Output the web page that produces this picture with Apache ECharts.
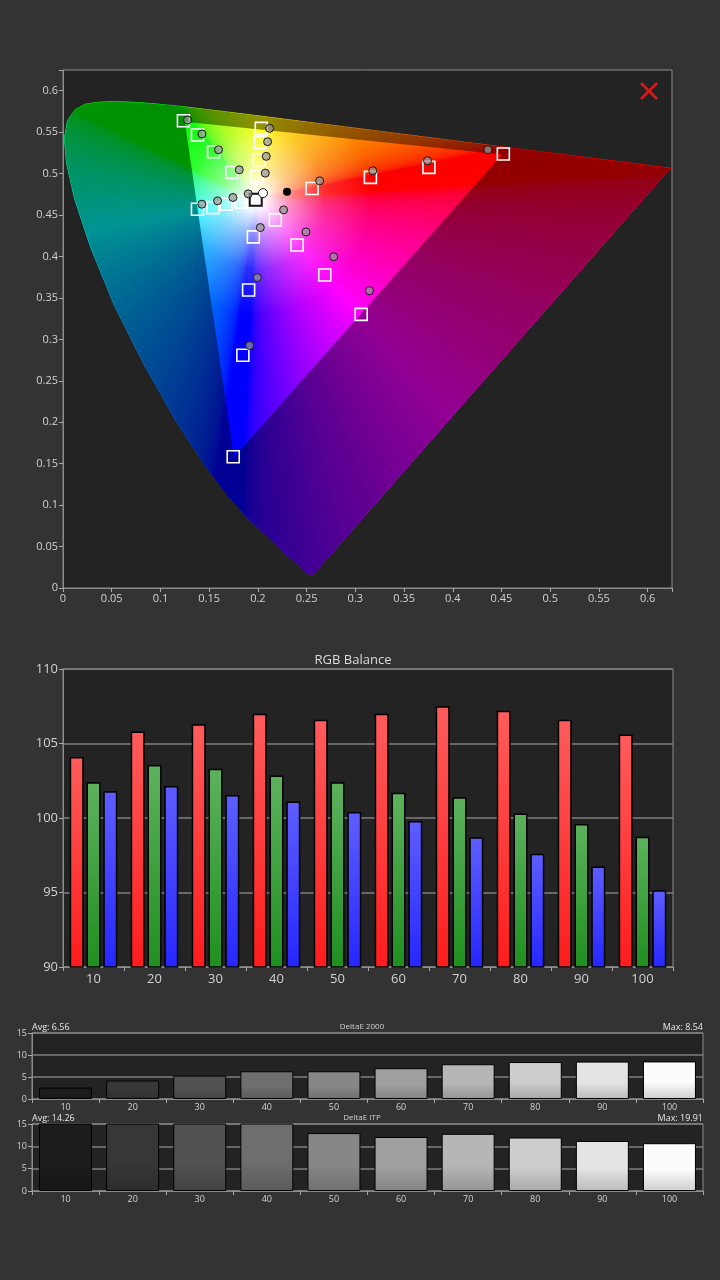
<!DOCTYPE html>
<html>
<head>
<meta charset="utf-8">
<script src="https://cdn.jsdelivr.net/npm/echarts@6.0.0/dist/echarts.min.js"></script>
<style>
html,body{margin:0;padding:0;background:#333;}
#main{width:720px;height:1280px;}
</style>
</head>
<body>
<div id="main"></div>
<script>
// spectral locus (CIE 1976 u'v'), 380nm -> 700nm, then back along the line of purples
var locusU = [0.2568, 0.2522, 0.2461, 0.2347, 0.2161, 0.1877, 0.1690, 0.1441, 0.1147, 0.0828, 0.0521, 0.0282, 0.0119, 0.0035, 0.0014, 0.0046, 0.0123, 0.0231, 0.0360, 0.0501, 0.0643, 0.0792, 0.0953, 0.1127, 0.1319, 0.1531, 0.1766, 0.2026, 0.2312, 0.2623, 0.2960, 0.3315, 0.3681, 0.4035, 0.4692, 0.5203, 0.5565, 0.5830, 0.6005, 0.6234, 0.5623, 0.5012, 0.4401, 0.3790, 0.3179];
var locusV = [0.0166, 0.0169, 0.0226, 0.0350, 0.0549, 0.0871, 0.1119, 0.1510, 0.2044, 0.2708, 0.3427, 0.4117, 0.4698, 0.5131, 0.5432, 0.5638, 0.5770, 0.5837, 0.5861, 0.5868, 0.5865, 0.5856, 0.5841, 0.5821, 0.5796, 0.5766, 0.5732, 0.5694, 0.5651, 0.5604, 0.5554, 0.5501, 0.5446, 0.5393, 0.5296, 0.5219, 0.5165, 0.5125, 0.5099, 0.5065, 0.4249, 0.3432, 0.2616, 0.1799, 0.0982];
// Rec.709 gamut R, G, B and D65
var gamutU = [0.4507, 0.1250, 0.1754];
var gamutV = [0.5229, 0.5625, 0.1579];
var whiteU = 0.1978, whiteV = 0.4683;

// targets (squares)
var targetU = [0.1236, 0.1380, 0.1545, 0.1733, 0.2035, 0.2025, 0.2014, 0.1994, 0.4519, 0.3755, 0.3155, 0.2556, 0.1380, 0.1538, 0.1675, 0.1826, 0.3060, 0.2686, 0.2402, 0.2179, 0.1747, 0.1846, 0.1905, 0.1953];
var targetV = [0.5638, 0.5465, 0.5264, 0.5014, 0.5546, 0.5377, 0.5167, 0.4966, 0.5236, 0.5075, 0.4954, 0.4821, 0.4570, 0.4590, 0.4631, 0.4659, 0.3301, 0.3777, 0.4139, 0.4442, 0.1584, 0.2809, 0.3595, 0.4236];
// measurements (circles)
var measU = [0.1278, 0.1425, 0.1596, 0.1809, 0.2120, 0.2100, 0.2086, 0.2076, 0.4361, 0.3741, 0.3179, 0.2634, 0.1425, 0.1586, 0.1744, 0.1901, 0.3145, 0.2778, 0.2494, 0.2264, 0.1915, 0.1994, 0.2025];
var measV = [0.5647, 0.5478, 0.5288, 0.5046, 0.5546, 0.5385, 0.5208, 0.5006, 0.5288, 0.5155, 0.5034, 0.4913, 0.4631, 0.4671, 0.4712, 0.4756, 0.3587, 0.3997, 0.4296, 0.4562, 0.2926, 0.3745, 0.4349];
var whiteMeas = [0.2052, 0.4764];
var blackDot = [0.2299, 0.4780];
var uvTicks = ['0', '0.05', '0.1', '0.15', '0.2', '0.25', '0.3', '0.35', '0.4', '0.45', '0.5', '0.55', '0.6'];

// RGB balance
var levels = ['10', '20', '30', '40', '50', '60', '70', '80', '90', '100'];
var redVals = [104.1, 105.8, 106.3, 107.0, 106.6, 107.0, 107.5, 107.2, 106.6, 105.6];
var greenVals = [102.4, 103.55, 103.3, 102.85, 102.4, 101.7, 101.4, 100.3, 99.6, 98.75];
var blueVals = [101.8, 102.15, 101.55, 101.1, 100.4, 99.8, 98.7, 97.6, 96.75, 95.15];

// DeltaE
var de2000 = [2.6, 4.2, 5.3, 6.3, 6.3, 7.0, 7.9, 8.4, 8.5, 8.54];
var deItp = [16.2, 17.4, 17.3, 19.91, 12.96, 12.1, 12.8, 11.97, 11.2, 10.7];
var barGrays = [28, 55, 82, 110, 135, 160, 182, 205, 228, 252];

var labelFont = 'Open Sans';
var axisGray = '#8c8c8c';
var hueSteps = 8; // colour steps per locus segment

function chromaColor(u, v) {
	var d = 6 * u - 16 * v + 12;
	var x = 9 * u / d, y = 4 * v / d;
	var X = x / y, Y = 1, Z = (1 - x - y) / y;
	var rgb = [
		3.2406 * X - 1.5372 * Y - 0.4986 * Z,
		-0.9689 * X + 1.8758 * Y + 0.0415 * Z,
		0.0557 * X - 0.2040 * Y + 1.0570 * Z
	].map(function(c) { return Math.max(c, 0); });
	var m = Math.max(rgb[0], rgb[1], rgb[2]);
	return 'rgb(' + rgb.map(function(c) {
		c = c / m;
		c = c <= 0.0031308 ? 12.92 * c : 1.055 * Math.pow(c, 1 / 2.4) - 0.055;
		return Math.round(c * 255);
	}).join(',') + ')';
}

function signedArea(pts) {
	var a = 0;
	for (var i = 0; i < pts.length; i++) {
		var p = pts[i], q = pts[(i + 1) % pts.length];
		a += p[0] * q[1] - q[0] * p[1];
	}
	return a;
}

// hue layer: each locus segment is a fan of thin wedges, one colour per direction
function renderHue(params, api) {
	var i = params.dataIndex;
	var j = (i + 1) % locusU.length;
	var w = api.coord([whiteU, whiteV]);
	var kids = [];
	for (var k = 0; k < hueSteps; k++) {
		var f0 = k / hueSteps, f1 = (k + 1) / hueSteps, fm = (k + 0.5) / hueSteps;
		var p0 = api.coord([locusU[i] + (locusU[j] - locusU[i]) * f0, locusV[i] + (locusV[j] - locusV[i]) * f0]);
		var p1 = api.coord([locusU[i] + (locusU[j] - locusU[i]) * f1, locusV[i] + (locusV[j] - locusV[i]) * f1]);
		var col = chromaColor(locusU[i] + (locusU[j] - locusU[i]) * fm, locusV[i] + (locusV[j] - locusV[i]) * fm);
		kids.push({
			type: 'polygon',
			shape: { points: [w, p0, p1] },
			style: { fill: col, stroke: col, lineWidth: 0.8 }
		});
	}
	return { type: 'group', children: kids };
}

// white glow round the white point, inside the gamut triangle
function renderWhite(params, api) {
	var w = api.coord([whiteU, whiteV]);
	var tri = gamutU.map(function(u, i) { return api.coord([u, gamutV[i]]); });
	var grad = new echarts.graphic.RadialGradient(w[0], w[1], 115, [
		{ offset: 0, color: 'rgba(255,255,255,1)' },
		{ offset: 0.1, color: 'rgba(255,255,255,0.93)' },
		{ offset: 0.3, color: 'rgba(255,255,255,0.55)' },
		{ offset: 0.6, color: 'rgba(255,255,255,0.18)' },
		{ offset: 1, color: 'rgba(255,255,255,0)' }
	], true);
	return {
		type: 'polygon',
		shape: { points: tri },
		style: { fill: grad }
	};
}

// darken everything outside the gamut triangle
function renderShade(params, api) {
	var outer = locusU.map(function(u, i) { return api.coord([u, locusV[i]]); });
	var tri = gamutU.map(function(u, i) { return api.coord([u, gamutV[i]]); });
	if (signedArea(outer) * signedArea(tri) > 0) tri.reverse();
	var d = '';
	outer.forEach(function(p, i) { d += (i ? 'L' : 'M') + p[0] + ' ' + p[1] + ' '; });
	d += 'Z ';
	tri.forEach(function(p, i) { d += (i ? 'L' : 'M') + p[0] + ' ' + p[1] + ' '; });
	d += 'Z';
	return {
		type: 'path',
		shape: { pathData: d },
		style: { fill: 'rgba(0,0,0,0.42)' }
	};
}

function pairs(us, vs) {
	return us.map(function(u, i) { return [u, vs[i]]; });
}

function barGrad(top, bottom) {
	return new echarts.graphic.LinearGradient(0, 0, 0, 1, [
		{ offset: 0, color: top },
		{ offset: 1, color: bottom }
	]);
}

function grayBar(vals) {
	return vals.map(function(v, i) {
		var g = barGrays[i], g2 = Math.round(g * 0.82);
		return {
			value: v,
			itemStyle: {
				color: new echarts.graphic.LinearGradient(0, 0, 0, 1, [
					{ offset: 0, color: 'rgb(' + g + ',' + g + ',' + g + ')' },
					{ offset: 0.55, color: 'rgb(' + g + ',' + g + ',' + g + ')' },
					{ offset: 1, color: 'rgb(' + g2 + ',' + g2 + ',' + g2 + ')' }
				])
			}
		};
	});
}

var chart = echarts.init(document.getElementById('main'));

var gridBase = { show: true, backgroundColor: '#232323', borderColor: axisGray, borderWidth: 1 };

function valueAxis(idx, min, max, step, size, fmt, split) {
	return {
		type: 'value', gridIndex: idx, min: min, max: max, interval: step,
		axisLine: { show: true, lineStyle: { color: axisGray } },
		axisTick: { show: true, length: 4, lineStyle: { color: '#aaa' } },
		axisLabel: { color: '#d2d2d2', fontSize: size, fontFamily: labelFont, margin: 5, formatter: fmt },
		splitLine: { show: split, lineStyle: { color: '#808080', width: 1.5 } }
	};
}

function catAxis(idx, size, margin) {
	return {
		type: 'category', gridIndex: idx, data: levels,
		axisLine: { show: true, lineStyle: { color: axisGray } },
		axisTick: { show: true, length: 4, alignWithLabel: false, lineStyle: { color: '#aaa' } },
		axisLabel: { color: '#d2d2d2', fontSize: size, fontFamily: labelFont, margin: margin },
		splitLine: { show: false }
	};
}

var uvFmt = function(v) {
	var i = Math.round(v / 0.05);
	return (Math.abs(v - i * 0.05) < 1e-6 && i < uvTicks.length) ? uvTicks[i] : '';
};

var option = {
	backgroundColor: '#333333',
	animation: false,
	grid: [
		Object.assign({ left: 63, top: 70, width: 609, height: 518 }, gridBase),
		Object.assign({ left: 63, top: 669, width: 610, height: 298 }, gridBase),
		Object.assign({ left: 32, top: 1033, width: 671, height: 66 }, gridBase),
		Object.assign({ left: 32, top: 1124, width: 671, height: 67 }, gridBase)
	],
	xAxis: [
		valueAxis(0, 0, 0.625, 0.05, 11, uvFmt, false),
		catAxis(1, 13, 6),
		catAxis(2, 9, 4),
		catAxis(3, 9, 4)
	],
	yAxis: [
		valueAxis(0, 0, 0.625, 0.05, 11, uvFmt, false),
		valueAxis(1, 90, 110, 5, 13, null, true),
		valueAxis(2, 0, 15, 5, 9, null, true),
		valueAxis(3, 0, 15, 5, 9, null, true)
	],
	graphic: [
		{ type: 'text', x: 353, y: 660, style: { text: 'RGB Balance', fill: '#dcdcdc', font: '13px "Open Sans"', align: 'center', verticalAlign: 'middle' } },
		{ type: 'text', x: 32, y: 1027, style: { text: 'Avg: 6.56', fill: '#e6e6e6', font: '9px "Open Sans"', align: 'left', verticalAlign: 'middle' } },
		{ type: 'text', x: 362, y: 1027, style: { text: 'DeltaE 2000', fill: '#cfcfcf', font: '8px "Open Sans"', align: 'center', verticalAlign: 'middle' } },
		{ type: 'text', x: 703, y: 1027, style: { text: 'Max: 8.54', fill: '#e6e6e6', font: '9px "Open Sans"', align: 'right', verticalAlign: 'middle' } },
		{ type: 'text', x: 32, y: 1118, style: { text: 'Avg: 14.26', fill: '#e6e6e6', font: '9px "Open Sans"', align: 'left', verticalAlign: 'middle' } },
		{ type: 'text', x: 362, y: 1118, style: { text: 'DeltaE ITP', fill: '#cfcfcf', font: '8px "Open Sans"', align: 'center', verticalAlign: 'middle' } },
		{ type: 'text', x: 703, y: 1118, style: { text: 'Max: 19.91', fill: '#e6e6e6', font: '9px "Open Sans"', align: 'right', verticalAlign: 'middle' } },
		{ type: 'line', shape: { x1: 641, y1: 83, x2: 657, y2: 99 }, style: { stroke: '#e01818', lineWidth: 2.5 } },
		{ type: 'line', shape: { x1: 657, y1: 83, x2: 641, y2: 99 }, style: { stroke: '#e01818', lineWidth: 2.5 } }
	],
	series: [
		{
			type: 'custom', xAxisIndex: 0, yAxisIndex: 0, z: 1,
			renderItem: renderHue,
			data: pairs(locusU, locusV),
			silent: true
		},
		{
			type: 'custom', xAxisIndex: 0, yAxisIndex: 0, z: 2,
			renderItem: renderWhite,
			data: [[whiteU, whiteV]],
			silent: true
		},
		{
			type: 'custom', xAxisIndex: 0, yAxisIndex: 0, z: 3,
			renderItem: renderShade,
			data: [[whiteU, whiteV]],
			silent: true
		},
		{
			type: 'scatter', xAxisIndex: 0, yAxisIndex: 0, z: 4,
			symbol: 'rect', symbolSize: 12,
			itemStyle: { color: 'rgba(0,0,0,0)', borderColor: '#ffffff', borderWidth: 1.6, opacity: 1 },
			data: pairs(targetU, targetV)
		},
		{
			type: 'scatter', xAxisIndex: 0, yAxisIndex: 0, z: 5,
			symbol: 'rect', symbolSize: 12,
			itemStyle: { color: '#ffffff', borderColor: '#111', borderWidth: 2, opacity: 1 },
			data: [[whiteU, whiteV]]
		},
		{
			type: 'scatter', xAxisIndex: 0, yAxisIndex: 0, z: 6,
			symbol: 'circle', symbolSize: 8,
			itemStyle: { color: 'rgba(150,150,150,0.72)', borderColor: '#1a1a1a', borderWidth: 1, opacity: 1 },
			data: pairs(measU, measV)
		},
		{
			type: 'scatter', xAxisIndex: 0, yAxisIndex: 0, z: 6,
			symbol: 'circle', symbolSize: 9,
			itemStyle: { color: '#ffffff', borderColor: '#1a1a1a', borderWidth: 1, opacity: 1 },
			data: [whiteMeas]
		},
		{
			type: 'scatter', xAxisIndex: 0, yAxisIndex: 0, z: 6,
			symbol: 'circle', symbolSize: 8,
			itemStyle: { color: '#000000', opacity: 1 },
			data: [blackDot]
		},
		{
			type: 'bar', xAxisIndex: 1, yAxisIndex: 1, barWidth: 14, barGap: '20%',
			itemStyle: { color: barGrad('#ff5c5c', '#ff1c1c'), borderColor: '#000', borderWidth: 1.5 },
			data: redVals
		},
		{
			type: 'bar', xAxisIndex: 1, yAxisIndex: 1, barWidth: 14, barGap: '20%',
			itemStyle: { color: barGrad('#5db25d', '#1f8f1f'), borderColor: '#000', borderWidth: 1.5 },
			data: greenVals
		},
		{
			type: 'bar', xAxisIndex: 1, yAxisIndex: 1, barWidth: 14, barGap: '20%',
			itemStyle: { color: barGrad('#5e5eff', '#2626ff'), borderColor: '#000', borderWidth: 1.5 },
			data: blueVals
		},
		{
			type: 'bar', xAxisIndex: 2, yAxisIndex: 2, barWidth: 53,
			itemStyle: { borderColor: '#000', borderWidth: 1 },
			data: grayBar(de2000)
		},
		{
			type: 'bar', xAxisIndex: 3, yAxisIndex: 3, barWidth: 53,
			itemStyle: { borderColor: '#000', borderWidth: 1 },
			data: grayBar(deItp)
		}
	]
};

chart.setOption(option);
</script>
</body>
</html>
